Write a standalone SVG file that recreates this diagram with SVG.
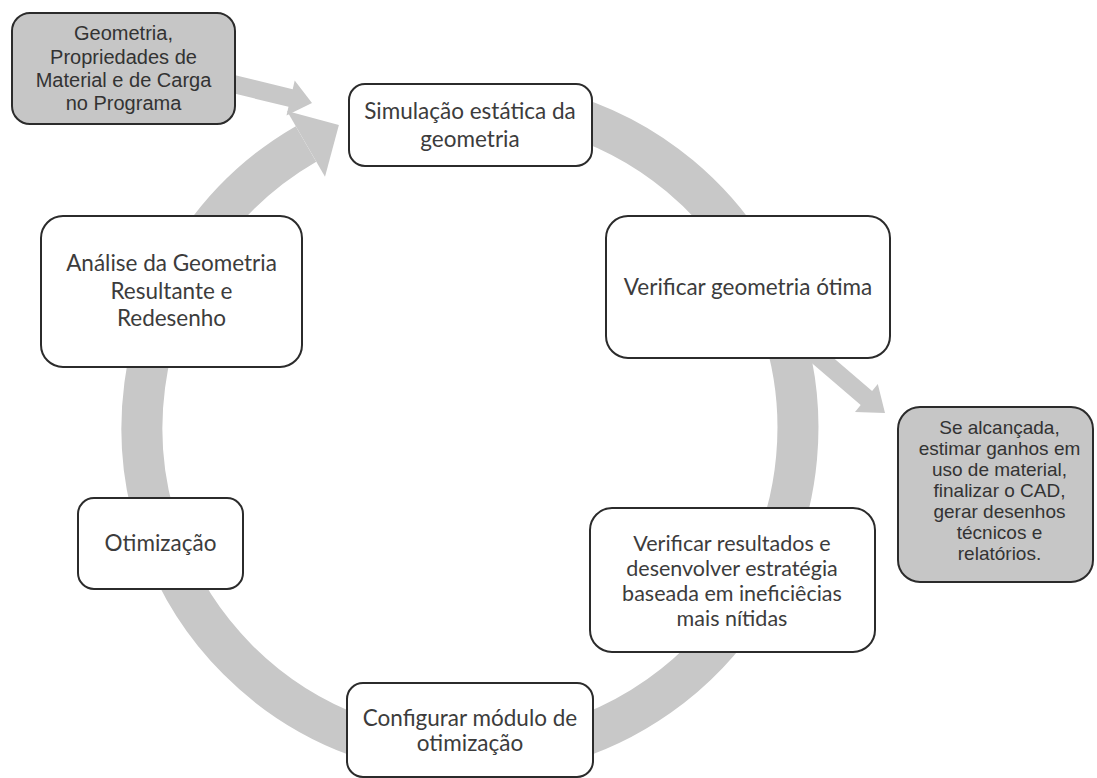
<svg xmlns="http://www.w3.org/2000/svg" width="1097" height="778" viewBox="0 0 1097 778">
<style>
.box{fill:#ffffff;stroke:#2b2b2b;stroke-width:2}
.gbox{fill:#c6c6c6;stroke:#2b2b2b;stroke-width:2}
.t{font-family:Lato,"Open Sans",sans-serif;font-size:22.5px;fill:#3c3c3c;text-anchor:middle}
.t2{font-family:Lato,"Open Sans",sans-serif;font-size:21.5px;fill:#3c3c3c;text-anchor:middle}
.ta{font-family:"Liberation Sans",Arial,sans-serif;font-size:20px;fill:#333333;text-anchor:middle}
.tb{font-family:"Liberation Sans",Arial,sans-serif;font-size:19px;fill:#333333;text-anchor:middle}
.ring{fill:none;stroke:#c8c8c8;stroke-width:41}
.arw{fill:#c8c8c8}
</style>
<rect width="1097" height="778" fill="#ffffff"/>
<g id="connectors">
<path class="ring" d="M554.9,111.2 A328,328 0 1 1 306,143.9"/>
<polygon class="arw" points="287,111 338.9,124.9 325,176.8"/>
<polygon class="arw" points="227.1,73.2 292.7,89.2 294.7,80.5 312,103 286.5,115.5 288.5,106.8 222.9,90.8"/>
<polygon class="arw" points="809.7,337.4 872.1,390.9 877.8,383.9 885,413 855,411.9 860.7,404.9 798.3,351.4"/>
</g>
<g id="n_input">
<rect class="gbox" x="12" y="13" width="223" height="111" rx="18"/>
<text class="ta" x="123.5" y="40">Geometria,</text>
<text class="ta" x="123.5" y="64">Propriedades de</text>
<text class="ta" x="123.5" y="87">Material e de Carga</text>
<text class="ta" x="123.5" y="110">no Programa</text>
</g>
<g id="n_simulacao">
<rect class="box" x="349" y="84" width="243" height="82" rx="16"/>
<text class="t" x="470" y="119">Simulação estática da</text>
<text class="t" x="470" y="147">geometria</text>
</g>
<g id="n_verificar_otima">
<rect class="box" x="606" y="216" width="284" height="142" rx="22"/>
<text class="t" x="748" y="295">Verificar geometria ótima</text>
</g>
<g id="n_resultado">
<rect class="gbox" x="898" y="407" width="195" height="175" rx="22"/>
<text class="tb" x="999.5" y="434">Se alcançada,</text>
<text class="tb" x="999.5" y="455">estimar ganhos em</text>
<text class="tb" x="999.5" y="476">uso de material,</text>
<text class="tb" x="999.5" y="497">finalizar o CAD,</text>
<text class="tb" x="999.5" y="518">gerar desenhos</text>
<text class="tb" x="999.5" y="539">técnicos e</text>
<text class="tb" x="999.5" y="560">relatórios.</text>
</g>
<g id="n_verificar_resultados">
<rect class="box" x="590" y="508" width="285" height="144" rx="22"/>
<text class="t2" x="732" y="551">Verificar resultados e</text>
<text class="t2" x="732" y="576">desenvolver estratégia</text>
<text class="t2" x="732" y="601">baseada em ineficiêcias</text>
<text class="t2" x="732" y="626">mais nítidas</text>
</g>
<g id="n_configurar">
<rect class="box" x="347" y="683" width="246" height="94" rx="16"/>
<text class="t" x="470" y="726">Configurar módulo de</text>
<text class="t" x="470" y="751">otimização</text>
</g>
<g id="n_otimizacao">
<rect class="box" x="78" y="498" width="165" height="91" rx="16"/>
<text class="t" x="160.5" y="551">Otimização</text>
</g>
<g id="n_analise">
<rect class="box" x="41" y="216" width="261" height="151" rx="22"/>
<text class="t" x="171.5" y="271">Análise da Geometria</text>
<text class="t" x="171.5" y="299">Resultante e</text>
<text class="t" x="171.5" y="326">Redesenho</text>
</g>
</svg>
